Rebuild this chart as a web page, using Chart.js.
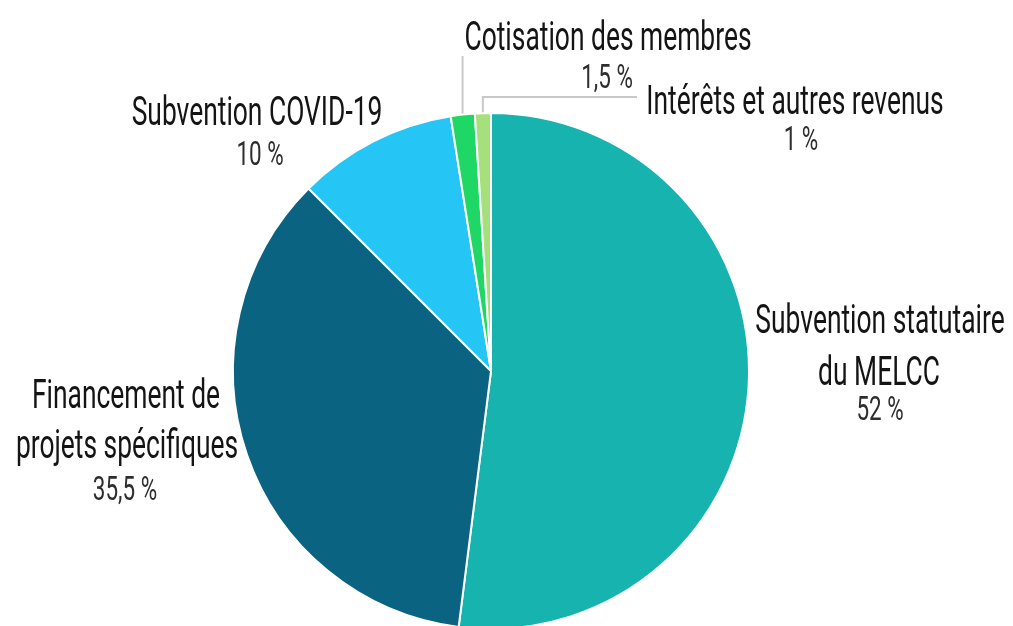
<!DOCTYPE html>
<html>
<head>
<meta charset="utf-8">
<script src="https://cdn.jsdelivr.net/npm/chart.js@4/dist/chart.umd.min.js"></script>
<style>
    body { margin: 0; background: #fff; }
    #wrap { width: 1013px; height: 626px; overflow: hidden; }
</style>
</head>
<body>
<div id="wrap"><canvas id="pie" width="1013" height="640"></canvas></div>
<script>
const categories = [
    'Subvention statutaire du MELCC',
    'Financement de projets spécifiques',
    'Subvention COVID-19',
    'Cotisation des membres',
    'Intérêts et autres revenus'
];
const shares = [52, 35.5, 10, 1.5, 1];
const percentLabels = ['52 %', '35,5 %', '10 %', '1,5 %', '1 %'];
const sliceColors = ['#17b3ae', '#0a6380', '#25c5f5', '#1fd765', '#a6e07c'];

// how each label is broken into lines
const labelLines = [
    ['Subvention statutaire', 'du MELCC'],
    ['Financement de', 'projets spécifiques'],
    ['Subvention COVID-19'],
    ['Cotisation des membres'],
    ['Intérêts et autres revenus']
];

// text placement: centre x and baseline of each line, percentage last
const labelLayout = [
    { xs: [880, 879, 880], ys: [333, 385, 420] },
    { xs: [126, 127, 125], ys: [408, 458, 500] },
    { xs: [257, 260], ys: [125, 165] },
    { xs: [608, 607], ys: [50, 88] },
    { xs: [795, 801], ys: [114, 150] }
];

// leader lines: 'up' goes straight up to y, 'elbow' goes up then right to x2
const leaders = {
    3: { kind: 'up', y: 56 },
    4: { kind: 'elbow', y: 97, x2: 637 }
};

const TEXT_SCALE = 0.66;

function drawText(ctx, text, x, y, font, color) {
    ctx.save();
    ctx.font = font;
    ctx.fillStyle = color;
    ctx.textAlign = 'center';
    ctx.textBaseline = 'alphabetic';
    ctx.translate(x, y);
    ctx.scale(TEXT_SCALE, 1);
    ctx.fillText(text, 0, 0);
    ctx.restore();
}

const sliceLabels = {
    id: 'sliceLabels',
    afterDraw(chart) {
        const ctx = chart.ctx;
        const meta = chart.getDatasetMeta(0);

        // leader lines
        ctx.save();
        ctx.strokeStyle = '#c9c9c9';
        ctx.lineWidth = 2;
        Object.keys(leaders).forEach(key => {
            const arc = meta.data[key];
            const p = arc.getProps(['x', 'y', 'startAngle', 'endAngle', 'outerRadius']);
            const mid = (p.startAngle + p.endAngle) / 2;
            const px = p.x + Math.cos(mid) * (p.outerRadius + 1);
            const py = p.y + Math.sin(mid) * (p.outerRadius + 1);
            const l = leaders[key];
            ctx.beginPath();
            ctx.moveTo(px, py);
            ctx.lineTo(px, l.y);
            if (l.kind === 'elbow') ctx.lineTo(l.x2, l.y);
            ctx.stroke();
        });
        ctx.restore();

        // texts
        labelLines.forEach((lines, i) => {
            const lay = labelLayout[i];
            lines.forEach((line, j) => {
                drawText(ctx, line, lay.xs[j], lay.ys[j], '400 40px Roboto', '#141414');
            });
            const k = lines.length;
            drawText(ctx, percentLabels[i], lay.xs[k], lay.ys[k], '400 34px Roboto', '#2e2e2e');
        });
    }
};

new Chart(document.getElementById('pie').getContext('2d'), {
    type: 'pie',
    data: {
        labels: categories,
        datasets: [{
            data: shares,
            backgroundColor: sliceColors,
            borderColor: '#ffffff',
            borderWidth: 2
        }]
    },
    options: {
        responsive: false,
        animation: false,
        layout: {
            padding: { left: 232, right: 263, top: 112, bottom: 10 }
        },
        plugins: {
            legend: { display: false },
            tooltip: { enabled: false }
        }
    },
    plugins: [sliceLabels]
});
</script>
</body>
</html>
